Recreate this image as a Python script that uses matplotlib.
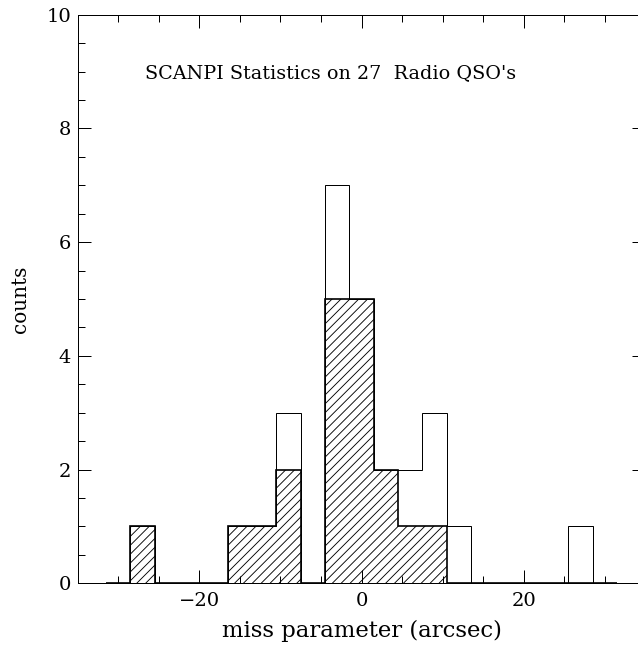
import matplotlib
matplotlib.use("Agg")
import matplotlib.pyplot as plt
import numpy as np
from matplotlib.ticker import MultipleLocator

# histogram bins (arcsec), bin width 3
bin_centers = [-30, -27, -24, -21, -18, -15, -12, -9, -6, -3, 0,
               3, 6, 9, 12, 15, 18, 21, 24, 27, 30]
# all 27 radio QSO's (open histogram)
all_counts = [0, 1, 0, 0, 0, 1, 1, 3, 0, 7, 5,
              2, 2, 3, 1, 0, 0, 0, 0, 1, 0]
# hatched subset
hatched_counts = [0, 1, 0, 0, 0, 1, 1, 2, 0, 5, 5,
                  2, 1, 1, 0, 0, 0, 0, 0, 0, 0]

title_text = "SCANPI Statistics on 27  Radio QSO's"

plt.rcParams['font.family'] = ['DejaVu Serif']
plt.rcParams['hatch.linewidth'] = 0.8

dpi = 80
fig = plt.figure(figsize=(638 / dpi, 648 / dpi), dpi=dpi)
# right frame edge falls just outside the picture, as in the original
ax = fig.add_axes([77.7 / 638, 1 - 583.3 / 648, 567.8 / 638, 568.6 / 648])

centers = np.array(bin_centers, dtype=float)
edges = np.append(centers - 1.5, centers[-1] + 1.5)

ax.stairs(all_counts, edges, baseline=0, color="black", linewidth=0.9)
ax.stairs(hatched_counts, edges, baseline=0, fill=True, facecolor="none",
          edgecolor="black", hatch="///", linewidth=1.5)

ax.set_xlim(-35, 35)
ax.set_ylim(0, 10)

ax.xaxis.set_major_locator(MultipleLocator(20))
ax.xaxis.set_minor_locator(MultipleLocator(5))
ax.yaxis.set_major_locator(MultipleLocator(2))
ax.yaxis.set_minor_locator(MultipleLocator(0.5))
ax.tick_params(which="both", direction="in", top=True, right=True,
               labelsize=17.5, width=0.9)
ax.tick_params(which="major", length=11.5)
ax.tick_params(which="minor", length=6)
ax.tick_params(axis="x", which="major", pad=8)
ax.tick_params(axis="y", which="major", pad=6)
for s in ax.spines.values():
    s.set_linewidth(0.9)

ax.set_xlabel("miss parameter (arcsec)", fontsize=20.5)
ax.xaxis.set_label_coords(0.5, -0.064)
ax.set_ylabel("counts", fontsize=18)
ax.yaxis.set_label_coords(-0.084, 0.5)

ax.text(-3.8, 8.97, title_text, ha="center", va="center", fontsize=17.2)

fig.savefig("out.png", dpi=dpi)
